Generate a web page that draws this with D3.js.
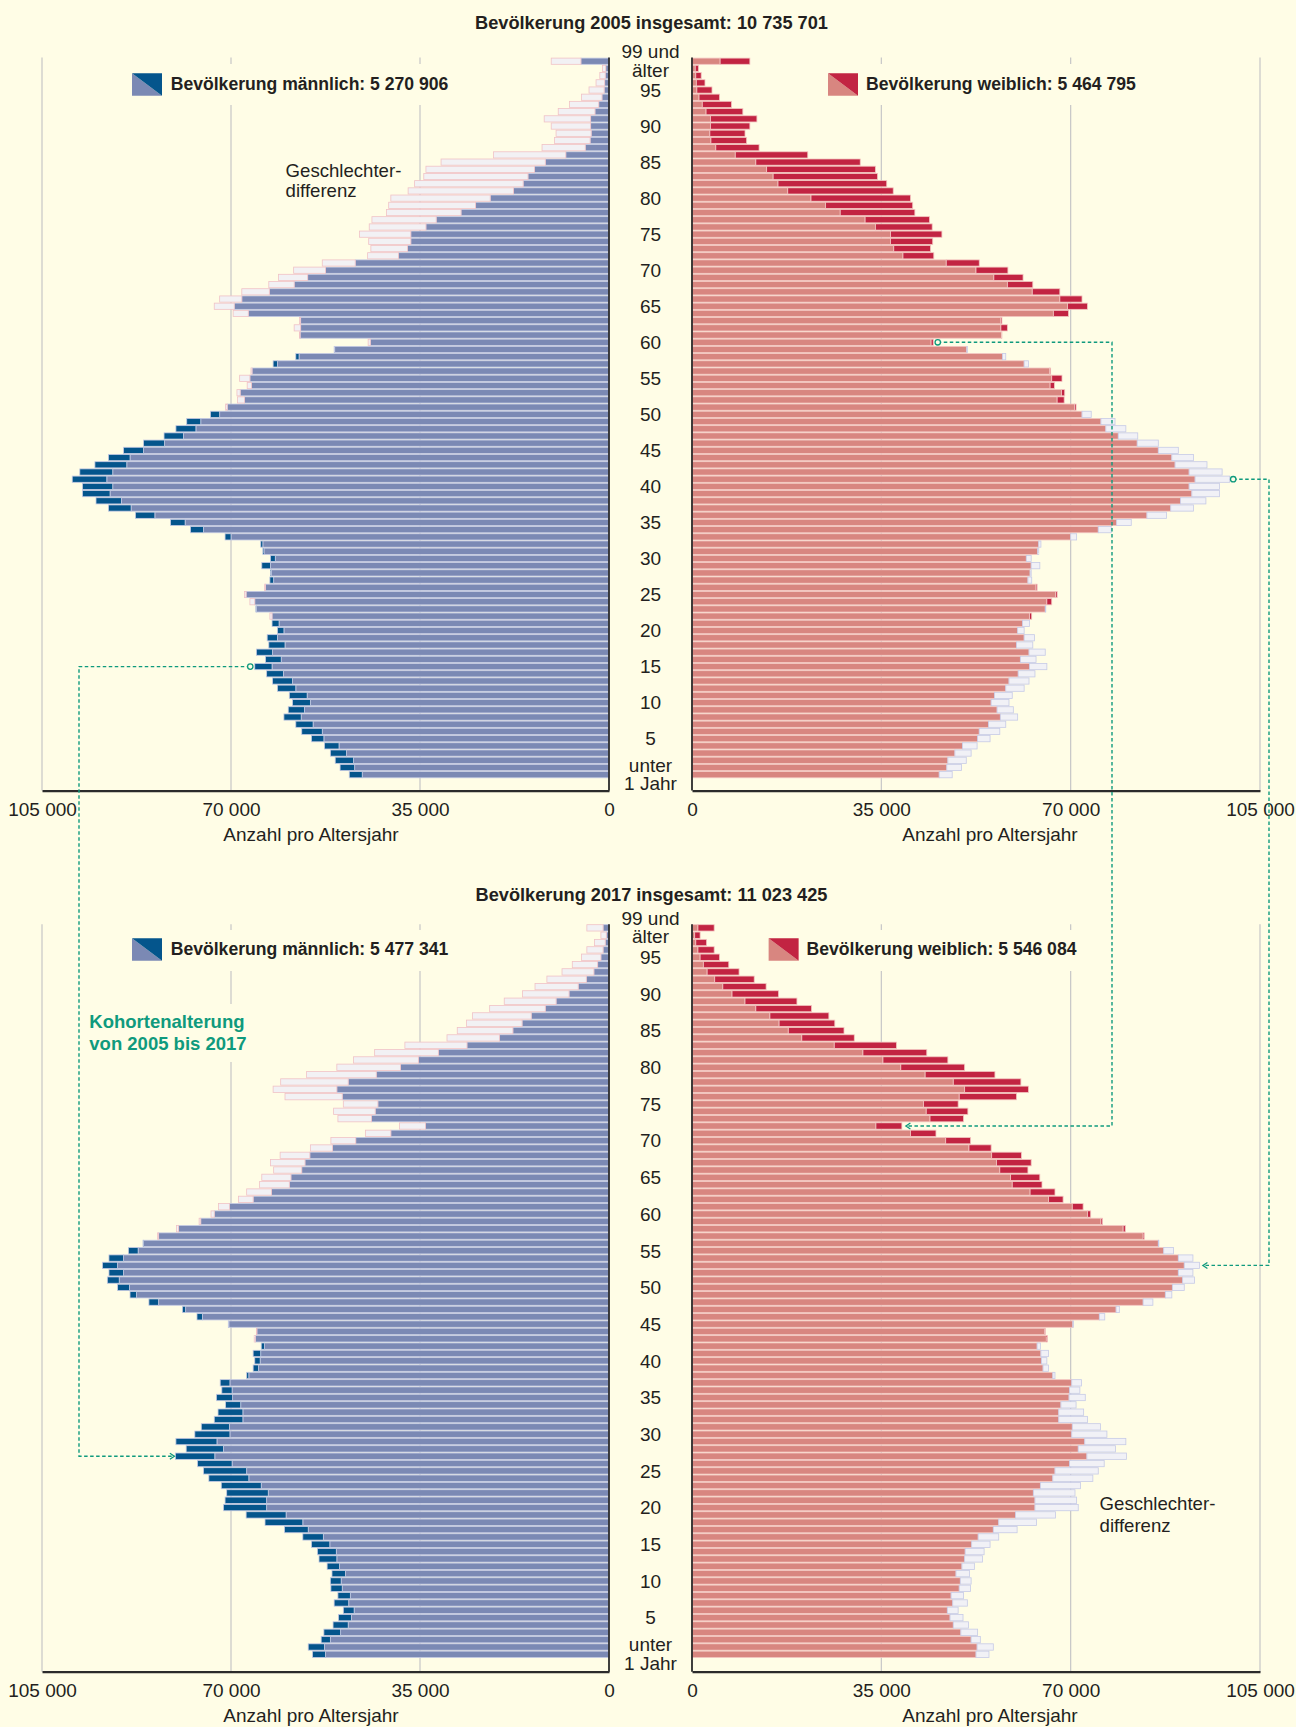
<!DOCTYPE html>
<html><head><meta charset="utf-8">
<script src="https://cdn.jsdelivr.net/npm/d3@7"></script>
<style>
body{margin:0;background:#fffde6}
svg{display:block}
text{font-family:"Liberation Sans",Arial,Helvetica,sans-serif;fill:#231f20}
</style></head>
<body><svg id="c" width="1296" height="1727"></svg>
<script>
// ages 0 .. 99 (99 = "99 und älter"), values in thousands of persons
const ages = d3.range(0, 100);
const male2005 = [48.1,49.8,50.7,51.6,52.7,55.1,56.9,58.0,60.2,59.4,
 58.6,59.2,61.4,62.3,63.4,65.6,63.6,65.3,63.0,63.3,
 61.4,62.4,62.4,65.4,65.6,67.2,63.6,62.8,62.7,64.3,
 62.7,64.1,64.5,71.1,77.5,81.2,87.7,92.7,95.0,97.5,
 97.5,99.4,98.0,95.2,92.7,89.9,86.2,82.4,80.2,78.2,
 73.8,70.7,67.5,68.3,66.2,66.5,66.1,62.2,58.0,50.9,
 44.2,57.2,57.1,57.1,66.8,69.4,68.0,62.9,58.3,55.8,
 52.5,47.0,39.0,37.3,36.7,36.7,33.9,32.0,27.4,24.7,
 22.0,17.7,15.9,15.0,13.8,11.8,8.0,4.4,3.5,3.3,
 3.4,3.4,2.6,1.9,1.3,0.9,0.8,0.7,0.6,5.2];
const female2005 = [45.7,47.1,47.3,48.6,50.0,52.8,53.1,54.8,57.0,56.4,
 55.3,55.9,58.0,58.6,60.3,62.4,60.7,62.3,60.0,61.4,
 60.2,61.1,62.8,65.3,66.5,67.5,63.8,62.1,62.5,62.7,
 61.8,63.9,64.1,70.0,75.1,78.5,84.1,88.5,90.3,92.4,
 91.9,93.0,91.9,89.3,88.7,86.2,82.3,78.8,76.5,75.6,
 72.1,71.0,68.8,68.9,67.0,68.4,66.3,61.4,57.4,50.8,
 44.6,57.3,58.3,57.3,69.6,73.1,72.1,68.0,63.0,61.2,
 58.4,53.1,44.7,44.1,44.5,46.2,44.4,43.9,41.2,40.8,
 40.4,37.2,36.0,34.3,33.9,31.1,21.4,12.4,10.1,9.8,
 10.7,12.0,9.4,7.3,5.1,3.7,2.4,1.7,1.2,10.7];
const male2017 = [54.9,55.7,53.3,52.8,51.1,50.1,49.2,50.9,50.2,51.5,
 51.6,51.3,52.2,53.7,54.0,55.1,56.7,60.1,63.7,67.2,
 71.4,71.1,70.8,71.8,74.1,75.1,76.2,80.3,78.3,80.2,
 76.7,75.5,73.1,72.4,71.0,72.7,71.7,72.0,67.1,65.9,
 65.6,65.9,64.4,65.5,65.2,70.5,76.3,79.0,85.2,88.7,
 91.0,92.9,92.6,93.8,92.6,89.0,86.3,83.4,79.7,75.6,
 73.1,70.3,65.9,62.5,59.2,58.9,56.9,56.3,55.4,51.2,
 46.9,40.4,34.0,44.0,43.3,42.8,49.4,50.4,48.3,43.1,
 38.6,35.3,31.6,26.3,20.3,17.8,16.1,14.4,11.8,9.8,
 7.4,5.7,4.2,2.8,2.1,1.5,1.1,0.7,0.5,1.1];
const female2017 = [52.5,52.7,51.6,49.7,48.3,47.7,47.2,48.2,47.9,49.4,
 49.6,48.8,49.9,50.4,50.5,51.7,52.9,55.7,56.7,59.8,
 63.4,63.4,63.1,64.4,66.7,67.1,69.8,73.0,71.4,72.6,
 70.2,70.3,67.8,67.8,68.2,69.7,69.8,70.2,66.7,64.9,
 64.6,64.5,63.8,65.7,65.3,70.4,75.3,78.4,83.4,87.5,
 88.8,90.7,89.9,91.0,89.9,87.2,86.2,83.6,80.1,75.9,
 73.7,72.3,68.6,67.1,64.7,64.3,62.1,62.7,60.9,55.3,
 51.5,45.1,38.8,50.2,51.0,49.2,60.0,62.2,60.8,56.0,
 50.4,47.3,43.4,37.8,30.0,28.1,26.4,25.3,22.1,19.4,
 16.0,13.7,11.5,8.7,6.8,5.1,4.1,2.7,1.5,4.1];
const titles = ["Bevölkerung 2005 insgesamt: 10 735 701", "Bevölkerung 2017 insgesamt: 11 023 425"];
const legendMale = ["Bevölkerung männlich: 5 270 906", "Bevölkerung männlich: 5 477 341"];
const legendFemale = ["Bevölkerung weiblich: 5 464 795", "Bevölkerung weiblich: 5 546 084"];
const tickValues = [0, 35, 70, 105];
const ageLabels = [95, 90, 85, 80, 75, 70, 65, 60, 55, 50, 45, 40, 35, 30, 25, 20, 15, 10, 5];

const BG = "#fffde6";
const C = {
  mLight: "#7b89b4", mDark: "#04558c", mStroke: "#c4cae3",
  fLight: "#d88680", fDark: "#c22442", fStroke: "#f3c6c1",
  outM: "#f2f1f4", outMStroke: "#f0c2c6",
  outF: "#f1f1f6", outFStroke: "#c6cae6",
  grid: "#c6c6c6", axis: "#2b2b2b", teal: "#0f9a7d", text: "#231f20"
};

const svg = d3.select("#c");
svg.append("rect").attr("width", 1296).attr("height", 1727).attr("fill", BG);

const fmt = d3.formatLocale({decimal: ",", thousands: " ", grouping: [3], currency: ["", ""]}).format(",");
const xm = d3.scaleLinear().domain([0, 105]).range([609, 42]);
const xf = d3.scaleLinear().domain([0, 105]).range([692, 1260]);

const panels = [
  {male: male2005, female: female2005, title: titles[0], legM: legendMale[0], legF: legendFemale[0],
   top: 57.6, bottom: 778.3, axisY: 790.6, titleY: 29, legY: 73.3, legFx: 828,
   masks: [[126, 64, 332, 41], [820, 64, 336, 41]]},
  {male: male2017, female: female2017, title: titles[1], legM: legendMale[1], legF: legendFemale[1],
   top: 924.2, bottom: 1658.0, axisY: 1671.7, titleY: 901, legY: 938.3, legFx: 768.6,
   masks: [[126, 930, 332, 41], [762, 930, 352, 41], [84, 1004, 168, 58]]}
];

function txt(g, x, y, s, opt = {}) {
  return g.append("text").attr("x", x).attr("y", y).text(s)
    .attr("font-size", opt.size || 19)
    .attr("font-weight", opt.bold ? "bold" : null)
    .attr("text-anchor", opt.anchor || "start")
    .style("fill", opt.fill || C.text);
}

function legendIcon(g, x, y, light, dark) {
  const w = 30, h = 22.4;
  g.append("path").attr("d", `M${x},${y}L${x},${y + h}L${x + w},${y + h}Z`).attr("fill", light);
  g.append("path").attr("d", `M${x},${y}L${x + w},${y}L${x + w},${y + h}Z`).attr("fill", dark);
}

panels.forEach(p => {
  const g = svg.append("g");
  const y = d3.scaleBand().domain(ages.slice().reverse()).range([p.top, p.bottom]);
  p.y = y;
  // gridlines
  [xm, xf].forEach(x => {
    g.selectAll(null).data([35, 70, 105]).join("line")
      .attr("x1", d => x(d)).attr("x2", d => x(d))
      .attr("y1", p.top).attr("y2", p.axisY)
      .attr("stroke", C.grid).attr("stroke-width", 1.2);
  });
  // gaps in grid behind labels
  p.masks.forEach(m => g.append("rect").attr("x", m[0]).attr("y", m[1]).attr("width", m[2]).attr("height", m[3]).attr("fill", BG));

  const rows = ages.map(a => ({a, m: p.male[a], f: p.female[a]}));
  const by = d => y(d.a) + 0.5;
  const bh = y.bandwidth() - 1;
  function bars(data, x0, x1, fill, stroke) {
    g.selectAll(null).data(data).join("rect")
      .attr("x", d => Math.min(x0(d), x1(d)))
      .attr("width", d => Math.abs(x1(d) - x0(d)))
      .attr("y", by).attr("height", bh)
      .attr("fill", fill).attr("stroke", stroke).attr("stroke-width", 0.8);
  }
  // male side
  bars(rows, d => xm(0), d => xm(Math.min(d.m, d.f)), C.mLight, C.mStroke);
  bars(rows.filter(d => d.m > d.f), d => xm(d.f), d => xm(d.m), C.mDark, C.mStroke);
  bars(rows.filter(d => d.f > d.m), d => xm(d.m), d => xm(d.f), C.outM, C.outMStroke);
  // female side
  bars(rows, d => xf(0), d => xf(Math.min(d.m, d.f)), C.fLight, C.fStroke);
  bars(rows.filter(d => d.f > d.m), d => xf(d.m), d => xf(d.f), C.fDark, C.fStroke);
  bars(rows.filter(d => d.m > d.f), d => xf(d.f), d => xf(d.m), C.outF, C.outFStroke);

  // zero lines
  [xm(0), xf(0)].forEach(x => g.append("line").attr("x1", x).attr("x2", x)
    .attr("y1", p.top).attr("y2", p.axisY).attr("stroke", C.axis).attr("stroke-width", 1.8));

  // axes
  [xm, xf].forEach(x => {
    const ax = g.append("g").attr("transform", `translate(0,${p.axisY})`)
      .call(d3.axisBottom(x).tickValues(tickValues).tickSize(0).tickSizeOuter(0).tickPadding(12).tickFormat(d => fmt(d * 1000)));
    ax.select(".domain").attr("stroke", C.axis).attr("stroke-width", 2.2);
    ax.selectAll("text").attr("font-size", 19).attr("font-family", "Liberation Sans, Arial, sans-serif").style("fill", C.text);
  });
  txt(g, 311, p.axisY + 50.6, "Anzahl pro Altersjahr", {anchor: "middle"});
  txt(g, 990, p.axisY + 50.6, "Anzahl pro Altersjahr", {anchor: "middle"});

  // age labels
  const cx = 650.5;
  ageLabels.forEach(a => txt(g, cx, y(a) + y.bandwidth() / 2 + 6.8, String(a), {anchor: "middle"}));
  const c99 = y(99) + y.bandwidth() / 2, c0 = y(0) + y.bandwidth() / 2;
  txt(g, cx, c99 - 3, "99 und", {anchor: "middle"});
  txt(g, cx, c99 + 15.5, "älter", {anchor: "middle"});
  txt(g, cx, c0 - 3, "unter", {anchor: "middle"});
  txt(g, cx, c0 + 15.3, "1 Jahr", {anchor: "middle"});

  // title & legends
  txt(g, 651.5, p.titleY, p.title, {anchor: "middle", bold: true, size: 18.2});
  legendIcon(g, 132, p.legY, C.mLight, C.mDark);
  txt(g, 170.7, p.legY + 16.2, p.legM, {bold: true, size: 17.6});
  legendIcon(g, p.legFx, p.legY, C.fLight, C.fDark);
  txt(g, p.legFx + 38, p.legY + 16.2, p.legF, {bold: true, size: 17.6});
});

// annotations
const ann = svg.append("g");
txt(ann, 285.6, 176.7, "Geschlechter-", {size: 18.6});
txt(ann, 285.6, 197.3, "differenz", {size: 18.6});
txt(ann, 1099.6, 1510, "Geschlechter-", {size: 18.6});
txt(ann, 1099.6, 1531.7, "differenz", {size: 18.6});
txt(ann, 89.3, 1028.3, "Kohortenalterung", {size: 18.5, bold: true, fill: C.teal});
txt(ann, 89.3, 1050, "von 2005 bis 2017", {size: 18.5, bold: true, fill: C.teal});

// cohort connectors
const P0 = panels[0], P1 = panels[1];
const cy = (p, a) => p.y(a) + p.y.bandwidth() / 2;
function connector(x0, y0, xv, y1, xt, dir) {
  ann.append("path").attr("d", `M${x0},${y0}H${xv}V${y1}H${xt}`)
    .attr("fill", "none").attr("stroke", C.teal).attr("stroke-width", 1.4).attr("stroke-dasharray", "3.5,2.5");
  ann.append("path").attr("d", `M${xt - dir * 4.5},${y1 - 3}L${xt},${y1}L${xt - dir * 4.5},${y1 + 3}`)
    .attr("fill", "none").attr("stroke", C.teal).attr("stroke-width", 1.3);
  ann.append("circle").attr("cx", x0).attr("cy", y0).attr("r", 2.7)
    .attr("fill", BG).attr("stroke", C.teal).attr("stroke-width", 1.3);
}
const mx = (p, a) => Math.max(p.male[a], p.female[a]);
connector(xm(mx(P0, 15)) - 4.5, cy(P0, 15), 79, cy(P1, 27), xm(mx(P1, 27)) - 1, 1);
connector(xf(mx(P0, 60)) + 4.5, cy(P0, 60), 1112, cy(P1, 72), xf(mx(P1, 72)) + 4, -1);
connector(xf(mx(P0, 41)) + 3.5, cy(P0, 41), 1269, cy(P1, 53), xf(mx(P1, 53)) + 3.5, -1);
</script>
</body></html>
